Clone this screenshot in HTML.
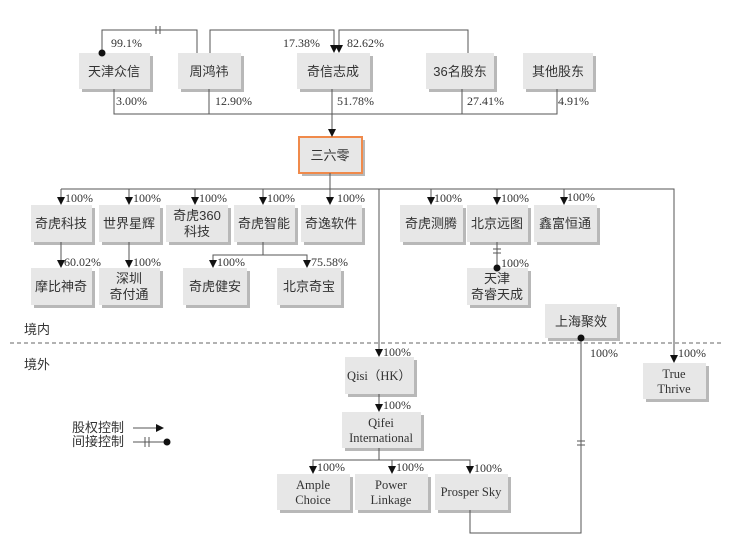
<!DOCTYPE html>
<html><head><meta charset="utf-8"><style>
body{margin:0;background:#fff}
svg{display:block}
.b{fill:#e7e7e7}
.s{fill:#b8b8b8}
.l{stroke:#555;stroke-width:1;fill:none}
.t{font-family:"Liberation Serif","Noto Sans CJK SC",serif;font-size:12px;fill:#333}
.c{font-family:"Liberation Sans","Noto Sans CJK SC",sans-serif;font-size:13px;fill:#333;text-anchor:middle}
.e{font-family:"Liberation Serif","Noto Sans CJK SC",serif;font-size:12.5px;fill:#333;text-anchor:middle}
</style></head><body>
<svg width="752" height="541" viewBox="0 0 752 541">
<defs>
<marker id="a" markerWidth="8" markerHeight="8" refX="7" refY="4" orient="auto" markerUnits="userSpaceOnUse"><path d="M0,0 L8,4 L0,8 z" fill="#111"/></marker>
<marker id="r" markerWidth="8" markerHeight="8" refX="7" refY="4" orient="auto" markerUnits="userSpaceOnUse"><path d="M0,0 L8,4 L0,8 z" fill="#111"/></marker>
</defs>
<g>
<rect class="s" x="82" y="56" width="71" height="36"/><rect class="b" x="79" y="53" width="71" height="36"/>
<rect class="s" x="181" y="56" width="63" height="36"/><rect class="b" x="178" y="53" width="63" height="36"/>
<rect class="s" x="300" y="56" width="73" height="36"/><rect class="b" x="297" y="53" width="73" height="36"/>
<rect class="s" x="429" y="56" width="68" height="36"/><rect class="b" x="426" y="53" width="68" height="36"/>
<rect class="s" x="526" y="56" width="70" height="36"/><rect class="b" x="523" y="53" width="70" height="36"/>
<rect class="s" x="302" y="140" width="63" height="36"/><rect x="299" y="137" width="63" height="36" fill="#e7e7e7" stroke="#f08a4b" stroke-width="2"/>
</g>
<g>
<rect class="s" x="34" y="208" width="61" height="37"/><rect class="b" x="31" y="205" width="61" height="37"/>
<rect class="s" x="102" y="208" width="61" height="37"/><rect class="b" x="99" y="205" width="61" height="37"/>
<rect class="s" x="169" y="208" width="62" height="37"/><rect class="b" x="166" y="205" width="62" height="37"/>
<rect class="s" x="237" y="208" width="61" height="37"/><rect class="b" x="234" y="205" width="61" height="37"/>
<rect class="s" x="304" y="208" width="61" height="37"/><rect class="b" x="301" y="205" width="61" height="37"/>
<rect class="s" x="403" y="208" width="63" height="37"/><rect class="b" x="400" y="205" width="63" height="37"/>
<rect class="s" x="470" y="208" width="61" height="37"/><rect class="b" x="467" y="205" width="61" height="37"/>
<rect class="s" x="537" y="208" width="63" height="37"/><rect class="b" x="534" y="205" width="63" height="37"/>
<rect class="s" x="34" y="271" width="61" height="37"/><rect class="b" x="31" y="268" width="61" height="37"/>
<rect class="s" x="102" y="271" width="61" height="37"/><rect class="b" x="99" y="268" width="61" height="37"/>
<rect class="s" x="186" y="271" width="64" height="37"/><rect class="b" x="183" y="268" width="64" height="37"/>
<rect class="s" x="280" y="271" width="64" height="37"/><rect class="b" x="277" y="268" width="64" height="37"/>
<rect class="s" x="470" y="271" width="61" height="37"/><rect class="b" x="467" y="268" width="61" height="37"/>
<rect class="s" x="548" y="307" width="72" height="34"/><rect class="b" x="545" y="304" width="72" height="34"/>
<rect class="s" x="348" y="360" width="69" height="37"/><rect class="b" x="345" y="357" width="69" height="37"/>
<rect class="s" x="646" y="366" width="63" height="36"/><rect class="b" x="643" y="363" width="63" height="36"/>
<rect class="s" x="345" y="415" width="79" height="36"/><rect class="b" x="342" y="412" width="79" height="36"/>
<rect class="s" x="280" y="477" width="73" height="36"/><rect class="b" x="277" y="474" width="73" height="36"/>
<rect class="s" x="358" y="477" width="73" height="36"/><rect class="b" x="355" y="474" width="73" height="36"/>
<rect class="s" x="438" y="477" width="73" height="36"/><rect class="b" x="435" y="474" width="73" height="36"/>
</g>
<path class="l" d="M197,53 V30 H102 V53"/>
<circle cx="102" cy="53" r="3.5" fill="#111"/>
<path class="l" d="M156,26 V34 M160,26 V34"/>
<path class="l" d="M210,53 V30 H334 V52" marker-end="url(#a)"/>
<path class="l" d="M468,53 V30 H339 V52" marker-end="url(#a)"/>
<path class="l" d="M114,89 V114 H557 V89 M209,89 V114 M462,89 V114"/>
<path class="l" d="M332,89 V136" marker-end="url(#a)"/>
<path class="l" d="M330,173 V189 M61,189 H674 V362" marker-end="url(#a)"/>
<g class="l">
<path d="M61,189 V204" marker-end="url(#a)"/><path d="M129,189 V204" marker-end="url(#a)"/>
<path d="M195,189 V204" marker-end="url(#a)"/><path d="M263,189 V204" marker-end="url(#a)"/>
<path d="M330,189 V204" marker-end="url(#a)"/><path d="M431,189 V204" marker-end="url(#a)"/>
<path d="M497,189 V204" marker-end="url(#a)"/><path d="M564,189 V204" marker-end="url(#a)"/>
<path d="M379,189 V356" marker-end="url(#a)"/>
<path d="M61,242 V267" marker-end="url(#a)"/><path d="M129,242 V267" marker-end="url(#a)"/>
<path d="M263,242 V255 H213 V267" marker-end="url(#a)"/><path d="M263,255 H307 V267" marker-end="url(#a)"/>
<path d="M497,242 V268"/><path d="M493,249 H501 M493,253 H501"/>
<path d="M581,338 V533 H470 V510"/><path d="M577,441 H585 M577,445 H585"/>
<path d="M379,394 V411" marker-end="url(#a)"/>
<path d="M379,448 V460 H313 V473" marker-end="url(#a)"/>
<path d="M392,460 V473" marker-end="url(#a)"/><path d="M379,460 H470 V473" marker-end="url(#a)"/>
<path d="M133,428 H163" marker-end="url(#r)"/>
<path d="M133,442 H166 M145,437 V447 M149,437 V447"/>
</g>
<circle cx="497" cy="268" r="3.5" fill="#111"/>
<circle cx="581" cy="338" r="3.5" fill="#111"/>
<circle cx="167" cy="442" r="3.5" fill="#111"/>
<path d="M10,343 H722" stroke="#666" stroke-dasharray="4,3"/>
<g class="t">
<text x="111" y="47">99.1%</text><text x="283" y="47">17.38%</text><text x="347" y="47">82.62%</text>
<text x="116" y="105">3.00%</text><text x="215" y="105">12.90%</text><text x="337" y="105">51.78%</text><text x="467" y="105">27.41%</text><text x="558" y="105">4.91%</text>
<text x="65" y="202">100%</text><text x="133" y="202">100%</text><text x="199" y="202">100%</text><text x="267" y="202">100%</text><text x="337" y="202">100%</text><text x="434" y="202">100%</text><text x="501" y="202">100%</text><text x="567" y="201">100%</text>
<text x="64" y="266">60.02%</text><text x="133" y="266">100%</text><text x="217" y="266">100%</text><text x="311" y="266">75.58%</text><text x="501" y="267">100%</text>
<text x="383" y="356">100%</text><text x="590" y="357">100%</text><text x="678" y="357">100%</text>
<text x="383" y="409">100%</text>
<text x="317" y="471">100%</text><text x="396" y="471">100%</text><text x="474" y="472">100%</text>
</g>
<g class="c">
<text x="114" y="76">天津众信</text><text x="209" y="76">周鸿祎</text><text x="333" y="76">奇信志成</text><text x="460" y="76">36名股东</text><text x="558" y="76">其他股东</text>
<text x="330" y="160">三六零</text>
<text x="61" y="228">奇虎科技</text><text x="129" y="228">世界星辉</text><text x="197" y="220">奇虎360</text><text x="197" y="236">科技</text><text x="264" y="228">奇虎智能</text><text x="331" y="228">奇逸软件</text><text x="431" y="228">奇虎测腾</text><text x="497" y="228">北京远图</text><text x="565" y="228">鑫富恒通</text>
<text x="61" y="291">摩比神奇</text><text x="129" y="283">深圳</text><text x="129" y="299">奇付通</text><text x="215" y="291">奇虎健安</text><text x="309" y="291">北京奇宝</text><text x="497" y="283">天津</text><text x="497" y="299">奇睿天成</text>
<text x="581" y="326">上海聚效</text>
<text x="37" y="334">境内</text><text x="37" y="369">境外</text>
<text x="98" y="432">股权控制</text><text x="98" y="446">间接控制</text>
</g>
<g class="e">
<text x="379" y="380">Qisi（HK）</text>
<text x="674" y="378">True</text><text x="674" y="393">Thrive</text>
<text x="381" y="427">Qifei</text><text x="381" y="442">International</text>
<text x="313" y="489">Ample</text><text x="313" y="504">Choice</text>
<text x="391" y="489">Power</text><text x="391" y="504">Linkage</text>
<text x="471" y="496">Prosper Sky</text>
</g>
</svg>
</body></html>
